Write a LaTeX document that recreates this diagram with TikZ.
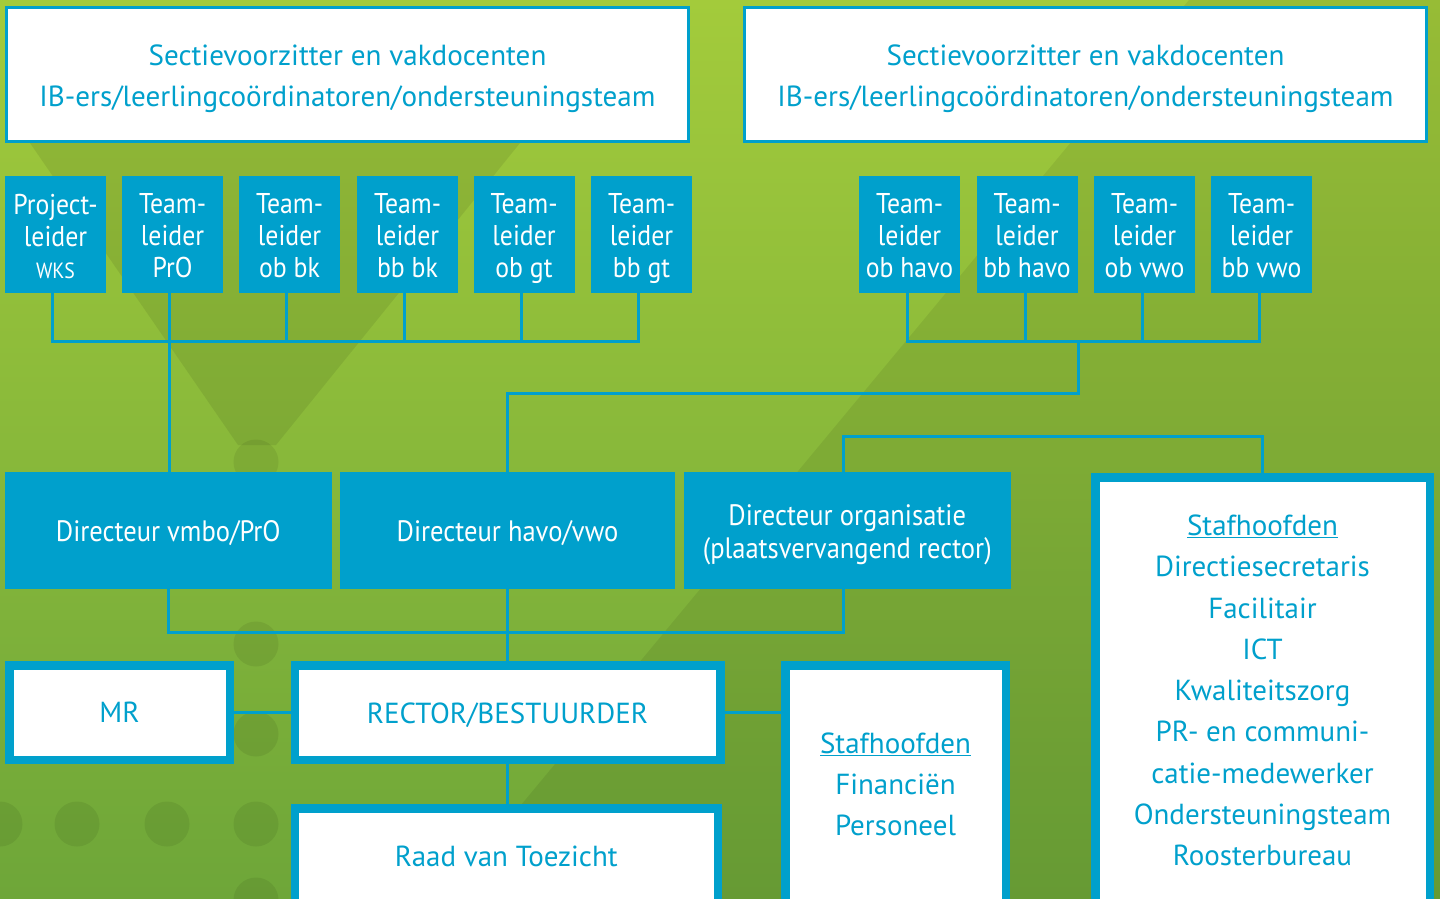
\documentclass[tikz,border=0pt]{standalone}
\usepackage{fontspec}
\setmainfont{PT Sans}
\newfontfamily\condfont{PT Sans}[FakeStretch=0.9]
\definecolor{cblue}{HTML}{00A0CC}
\definecolor{gtop}{HTML}{A3CB3B}
\definecolor{gbot}{HTML}{6EA639}
\newcommand{\fsz}[2]{\fontsize{#1}{#2}\selectfont}
\begin{document}
\begin{tikzpicture}[x=1pt,y=-1pt,
  topbox/.style={draw=cblue, line width=3pt, fill=white, minimum width=682pt, minimum height=134pt, inner sep=0pt},
  toptext/.style={text=cblue, inner sep=0pt, align=center, font=\fsz{29.1}{41}},
  tlbox/.style={fill=cblue, minimum width=101pt, minimum height=117pt, inner sep=0pt},
  tltext/.style={text=white, inner sep=0pt, align=center, font=\condfont\fsz{28.6}{32}},
  dirbox/.style={fill=cblue, minimum height=117pt, inner sep=0pt},
  dirtext/.style={text=white, inner sep=0pt, align=center, font=\condfont\fsz{29.5}{33}},
  wbox/.style={draw=cblue, line width=8.5pt, fill=white, inner sep=0pt},
  wtext/.style={text=cblue, inner sep=0pt, align=center, font=\fsz{29}{41.3}},
  conn/.style={draw=cblue, line width=3pt}]
\useasboundingbox (0,0) rectangle (1440,899);
% background
\shade[top color=gtop, bottom color=gbot] (0,0) rectangle (1440,899);
\begin{scope}
\clip (0,0) rectangle (1440,899);
\fill[black, opacity=0.07] (1189,0) -- (1440,0) -- (1440,899) -- (443,899) -- cycle;
\fill[black, opacity=0.08] (30,143) -- (520,143) -- (276,445) -- (238,445) -- cycle;
\foreach \cx/\cy in {256/462, 256/644, 256/734, 256/824, 256/900, 167/824, 77/824, 0/824}
  \fill[black, opacity=0.07] (\cx,\cy) circle[radius=22.5];
\end{scope}
% top boxes
\node[topbox] (secL) at (347.5,74.5) {};
\node[toptext] (secLt) at ([yshift=-4pt]secL.center) {Sectievoorzitter en vakdocenten\\IB-ers/leerlingcoördinatoren/ondersteuningsteam};
\node[topbox] (secR) at (1085.5,74.5) {};
\node[toptext] (secRt) at ([yshift=-4pt]secR.center) {Sectievoorzitter en vakdocenten\\IB-ers/leerlingcoördinatoren/ondersteuningsteam};
% team leaders
\foreach \n/\x/\t in {t1/55.5/{Project-\\leider\\{\fsz{22}{26}WKS}},
                      t2/172.5/{Team-\\leider\\PrO},
                      t3/289.5/{Team-\\leider\\ob bk},
                      t4/407.5/{Team-\\leider\\bb bk},
                      t5/524/{Team-\\leider\\ob gt},
                      t6/641.5/{Team-\\leider\\bb gt},
                      r1/909.5/{Team-\\leider\\ob havo},
                      r2/1027/{Team-\\leider\\bb havo},
                      r3/1144.5/{Team-\\leider\\ob vwo},
                      r4/1261.5/{Team-\\leider\\bb vwo}}{
  \node[tlbox] (\n) at (\x,234) {};
  \node[tltext] (\n t) at ([yshift=-5pt]\n.center) {\t\vphantom{g}};
}
% directors
\node[dirbox, minimum width=326.5pt] (dvmbo) at (168.25,530.5) {};
\node[dirtext] (dvmbot) at ([yshift=-3pt]dvmbo.center) {Directeur vmbo/PrO};
\node[dirbox, minimum width=335pt] (dhavo) at (507.5,530.5) {};
\node[dirtext] (dhavot) at ([yshift=-3pt]dhavo.center) {Directeur havo/vwo};
\node[dirbox, minimum width=326.5pt] (dorg) at (847.25,530.5) {};
\node[dirtext] (dorgt) at ([yshift=-4pt]dorg.center) {Directeur organisatie\\(plaatsvervangend rector)};
% lower boxes
\node[wbox, minimum width=220.5pt, minimum height=94.5pt] (mr) at (119.5,712.5) {};
\node[wtext] (mrt) at (mr.center) {MR};
\node[wbox, minimum width=425.5pt, minimum height=94.5pt] (rector) at (507.5,712.5) {};
\node[wtext] (rectort) at ([yshift=-3pt]rector.center) {RECTOR/BESTUURDER};
\node[wbox, minimum width=220.5pt, minimum height=238.5pt] (staf1) at (895.5,784.5) {};
\node[wtext] (staf1t) at (staf1.center) {\underline{Stafhoofden}\\Financiën\\Personeel};
\node[wbox, minimum width=423pt, minimum height=95.5pt] (raad) at (506.25,856) {};
\node[wtext] (raadt) at (raad.center) {Raad van Toezicht};
\node[wbox, minimum width=334.5pt, minimum height=426.5pt] (staf2) at (1262.5,690.5) {};
\node[wtext] (staf2t) at (staf2.center) {\underline{Stafhoofden}\\Directiesecretaris\\Facilitair\\ICT\\Kwaliteitszorg\\PR- en communi-\\catie-medewerker\\Ondersteuningsteam\\Roosterbureau};
% connectors left group
\draw[conn] ([xshift=-3pt]t1.south) -- ++(0,48.5) -| ([xshift=-3pt]t6.south);
\foreach \n in {t3,t4,t5}
  \draw[conn] ([xshift=-3pt]\n.south) -- ++(0,48.5);
\draw[conn] ([xshift=-3pt]t2.south) -- ([xshift=-3pt]t2.south |- dvmbo.north);
% connectors right group
\draw[conn] ([xshift=-2pt]r1.south) -- ++(0,48.5) -| ([xshift=-2pt]r4.south);
\foreach \n in {r2,r3}
  \draw[conn] ([xshift=-2pt]\n.south) -- ++(0,48.5);
\coordinate (hb) at (1078,341);
\draw[conn] (hb) -- (1078,393) -| (dhavo.north);
% organisatie to staff
\draw[conn] ([xshift=-4pt]dorg.north) -- ++(0,-35) -| (staf2.north);
% directors to rector
\draw[conn] (dvmbo.south) -- ++(0,43) -| ([xshift=-4pt]dorg.south);
\draw[conn] (dhavo.south) -- (rector.north);
\draw[conn] (mr.east) -- (rector.west);
\draw[conn] (rector.east) -- (staf1.west |- rector.east);
\draw[conn] (rector.south) -- (rector.south |- raad.north);
\end{tikzpicture}
\end{document}
